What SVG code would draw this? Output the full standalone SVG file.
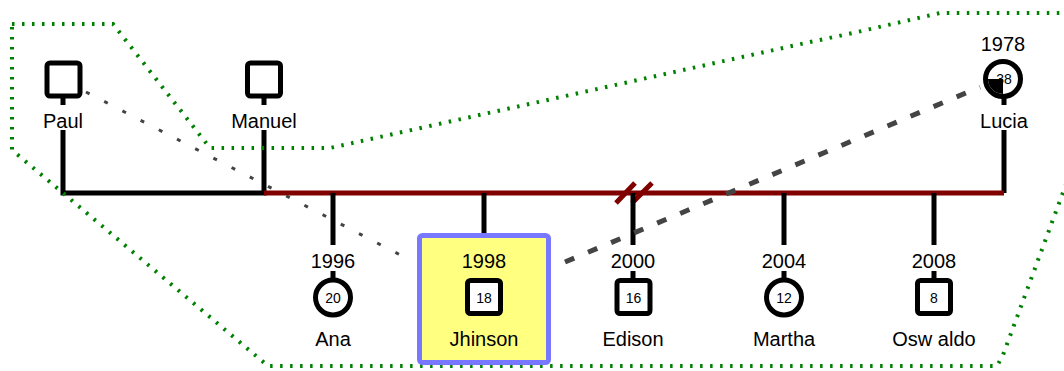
<svg xmlns="http://www.w3.org/2000/svg" width="1064" height="371" viewBox="0 0 1064 371">
<style>
text{font-family:"Liberation Sans",Arial,sans-serif;fill:#000}
.lbl{font-size:20px;text-anchor:middle}
.age{font-size:14px;text-anchor:middle}
.sym{fill:#fff;stroke:#000;stroke-width:5;stroke-linejoin:round}
.blk{stroke:#000;stroke-width:5;fill:none}
.red{stroke:#800000;stroke-width:5;fill:none}
</style>
<rect width="1064" height="371" fill="#fff"/>
<g id="connectors">
<path class="blk" d="M63,96V105M63,130V193H264V130M264,96V105"/>
<path class="blk" d="M1004,97V105M1004,130V193"/>
<path class="red" d="M264,193H1004"/>
<path class="red" d="M616,203L635,183M632,203L652,183"/>
<path class="blk" d="M333,193V245M333,271V280M484,193V235M484,271V280M633,193V245M633,271V280M784,193V245M784,271V280M934,193V245M934,271V280"/>
<path d="M86,92L410,260" stroke="#444" stroke-width="3" stroke-dasharray="4 16.5" fill="none"/>
<path d="M565,262L980,87" stroke="#444" stroke-width="5" stroke-dasharray="10 15" fill="none"/>
</g>
<g id="group-boundary">
<polygon points="12,24 113,24 210,148 330,148 810,42 853,33 940,13 1075,13 1075,160 1003,355 997,366 268,366 12,150" fill="none" stroke="#008000" stroke-width="4" stroke-dasharray="2.5 7.5"/>
</g>
<g id="Paul">
<rect class="sym" x="47" y="63" width="33" height="33" rx="3"/>
<text class="lbl" x="63" y="128">Paul</text>
</g>
<g id="Manuel">
<rect class="sym" x="247.5" y="63" width="33" height="33" rx="3"/>
<text class="lbl" x="264" y="128">Manuel</text>
</g>
<g id="Lucia">
<text class="lbl" x="1003" y="51">1978</text>
<circle class="sym" cx="1003" cy="79" r="17.5"/>
<path d="M1003,79H988A15,15 0 0 0 1003,94Z" fill="#000"/>
<text class="age" x="1004" y="84">38</text>
<text class="lbl" x="1004" y="128">Lucia</text>
</g>
<g id="Ana">
<text class="lbl" x="333" y="268">1996</text>
<circle class="sym" cx="333" cy="297.5" r="17.5"/>
<text class="age" x="333" y="302.5">20</text>
<text class="lbl" x="333" y="346">Ana</text>
</g>
<g id="Jhinson">
<rect x="419.5" y="235.5" width="129" height="127" rx="3" fill="#ffff80" stroke="#7777ff" stroke-width="5"/>
<text class="lbl" x="484" y="268">1998</text>
<rect class="sym" x="467.5" y="280.5" width="33" height="33" rx="3"/>
<text class="age" x="484" y="302.5">18</text>
<text class="lbl" x="484" y="346">Jhinson</text>
</g>
<g id="Edison">
<text class="lbl" x="633" y="268">2000</text>
<rect class="sym" x="617" y="280.5" width="33" height="33" rx="3"/>
<text class="age" x="633.5" y="302.5">16</text>
<text class="lbl" x="633" y="346">Edison</text>
</g>
<g id="Martha">
<text class="lbl" x="784" y="268">2004</text>
<circle class="sym" cx="784" cy="297.5" r="17.5"/>
<text class="age" x="784" y="302.5">12</text>
<text class="lbl" x="784" y="346">Martha</text>
</g>
<g id="Oswaldo">
<text class="lbl" x="934" y="268">2008</text>
<rect class="sym" x="917.5" y="280.5" width="33" height="33" rx="3"/>
<text class="age" x="934" y="302.5">8</text>
<text class="lbl" x="934" y="346">Osw aldo</text>
</g>
</svg>
